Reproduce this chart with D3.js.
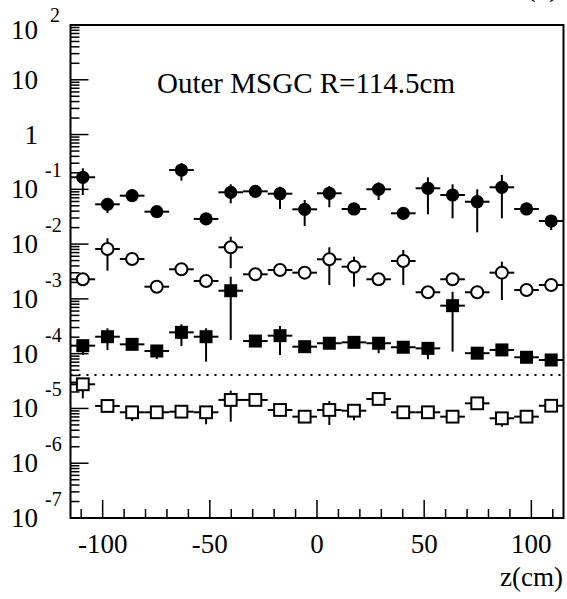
<!DOCTYPE html>
<html><head><meta charset="utf-8">
<script src="https://cdn.jsdelivr.net/npm/d3@7"></script>
<style>body{margin:0;background:#fff}svg{display:block}</style>
</head><body><div id="c"></div>
<script>
const zCenters = [-109.25,-97.75,-86.25,-74.75,-63.25,-51.75,-40.25,-28.75,-17.25,-5.75,5.75,17.25,28.75,40.25,51.75,63.25,74.75,86.25,97.75,109.25];
const binHalfWidth = 5.75;

const fullCircleVal = [0.166,0.0533,0.0766,0.0391,0.225,0.0288,0.0883,0.092,0.0832,0.0432,0.0847,0.0438,0.1002,0.0365,0.1045,0.0788,0.0594,0.109,0.0438,0.0264];
const fullCircleHi  = [0.242,0.07,0.095,0.048,0.299,0.035,0.1236,0.11,0.1117,0.0639,0.115,0.052,0.1345,0.044,0.166,0.1236,0.1002,0.183,0.052,0.034];
const fullCircleLo  = [0.0788,0.037,0.062,0.032,0.144,0.024,0.0556,0.075,0.0438,0.0214,0.047,0.036,0.0639,0.03,0.035,0.0296,0.0164,0.0296,0.036,0.0181];

const openCircleVal = [0.00228,0.00815,0.00535,0.00167,0.00347,0.00212,0.00875,0.00281,0.00337,0.00301,0.00528,0.00387,0.00228,0.00492,0.00132,0.00228,0.00132,0.00301,0.00145,0.00179];
const openCircleHi  = [0.0027,0.01277,0.0064,0.002,0.0042,0.0025,0.01365,0.0033,0.004,0.0036,0.00875,0.00589,0.0027,0.00781,0.0016,0.0027,0.0016,0.00478,0.0017,0.0021];
const openCircleLo  = [0.0019,0.00327,0.0045,0.0014,0.0029,0.0018,0.00362,0.0024,0.0028,0.0025,0.00179,0.00167,0.0019,0.00179,0.0011,0.0019,0.0011,0.000955,0.0012,0.0015];

const fullSquareVal = [1.40e-4,2.04e-4,1.48e-4,1.12e-4,2.45e-4,2.04e-4,1.41e-3,1.70e-4,2.13e-4,1.34e-4,1.55e-4,1.61e-4,1.55e-4,1.31e-4,1.25e-4,7.52e-4,1.02e-4,1.17e-4,8.59e-5,7.67e-5];
const fullSquareHi  = [1.7e-4,2.90e-4,1.75e-4,1.35e-4,3.44e-4,2.90e-4,2.54e-3,2.0e-4,3.20e-4,1.6e-4,1.85e-4,1.9e-4,1.85e-4,1.55e-4,1.5e-4,1.35e-3,1.2e-4,1.4e-4,1.0e-4,9.0e-5];
const fullSquareLo  = [9.5e-5,1.17e-4,1.25e-4,8.0e-5,1.38e-4,7.14e-5,1.78e-4,1.45e-4,9.46e-5,1.1e-4,1.3e-4,1.35e-4,1.02e-4,1.1e-4,7.9e-5,1.09e-4,8.5e-5,1.0e-4,7.2e-5,6.5e-5];

const openSquareVal = [2.76e-5,1.11e-5,8.51e-6,8.51e-6,8.73e-6,8.51e-6,1.43e-5,1.43e-5,9.38e-6,7.08e-6,9.38e-6,9.1e-6,1.49e-5,8.51e-6,8.51e-6,7.08e-6,1.24e-5,6.61e-6,7.08e-6,1.12e-5];
const openSquareHi  = [3.3e-5,1.3e-5,1.0e-5,1.0e-5,1.0e-5,1.0e-5,2.11e-5,1.7e-5,1.1e-5,8.3e-6,1.37e-5,1.07e-5,1.75e-5,1.0e-5,1.0e-5,8.3e-6,1.45e-5,7.8e-6,8.3e-6,1.3e-5];
const openSquareLo  = [1.53e-5,9.4e-6,5.9e-6,7.2e-6,7.4e-6,5.14e-6,5.73e-6,1.2e-5,8.0e-6,6.0e-6,4.99e-6,6.1e-6,1.27e-5,7.2e-6,7.2e-6,6.0e-6,1.05e-5,4.65e-6,6.0e-6,9.5e-6];

const referenceLevel = 4.08e-5;
const xTickLabels = ["-100","-50","0","50","100"];
const xMajorTicks = [-100,-50,0,50,100];
const yExponents = [-7,-6,-5,-4,-3,-2,-1,0,1,2];
const titleText = "Outer MSGC R=114.5cm";
const xAxisTitle = "z(cm)";

const W = 567, H = 599;
const L = 70.5, R = 563.5, T = 25, B = 518;
const svg = d3.select("#c").append("svg").attr("width", W).attr("height", H)
  .attr("font-family", "'Liberation Serif','Times New Roman',serif");
const x = d3.scaleLinear().domain([-115, 115]).range([L, R]);
const y = d3.scaleLog().domain([1e-7, 1e2]).range([B, T]);
const fs = 27;

// partially visible label at top-right (cut off in the original too)
svg.append("text").attr("x", 559).attr("y", -4).attr("text-anchor", "end").attr("font-size", 30).text("(a)");

// frame
svg.append("rect").attr("x", L).attr("y", T).attr("width", R - L).attr("height", B - T)
  .attr("fill", "none").attr("stroke", "#000").attr("stroke-width", 2);

// x ticks
const xMinor = d3.range(-110, 111, 10).filter(v => v % 50 !== 0);
svg.append("g").selectAll("line").data(xMinor).join("line")
  .attr("x1", d => x(d)).attr("x2", d => x(d)).attr("y1", B).attr("y2", B - 9)
  .attr("stroke", "#000").attr("stroke-width", 1.5);
svg.append("g").selectAll("line").data(xMajorTicks).join("line")
  .attr("x1", d => x(d)).attr("x2", d => x(d)).attr("y1", B).attr("y2", B - 18)
  .attr("stroke", "#000").attr("stroke-width", 1.5);
svg.append("g").selectAll("text").data(xMajorTicks).join("text")
  .attr("x", d => x(d)).attr("y", 553).attr("text-anchor", "middle").attr("font-size", fs)
  .text((d, i) => xTickLabels[i]);
svg.append("text").attr("x", 563).attr("y", 586).attr("text-anchor", "end").attr("font-size", fs).text(xAxisTitle);

// y ticks
const yMinor = [];
for (let e = -7; e < 2; e++) for (let m = 2; m <= 9; m++) yMinor.push(m * Math.pow(10, e));
svg.append("g").selectAll("line").data(yMinor).join("line")
  .attr("x1", L).attr("x2", L + 9).attr("y1", d => y(d)).attr("y2", d => y(d))
  .attr("stroke", "#000").attr("stroke-width", 1.5);
svg.append("g").selectAll("line").data(yExponents).join("line")
  .attr("x1", L).attr("x2", L + 18).attr("y1", d => y(Math.pow(10, d))).attr("y2", d => y(Math.pow(10, d)))
  .attr("stroke", "#000").attr("stroke-width", 1.5);
const yl = svg.append("g");
yExponents.forEach(e => {
  let yy = y(Math.pow(10, e));
  if (e === 2) yy += 5;
  if (e === 0) {
    yl.append("text").attr("x", 38).attr("y", yy + 9).attr("text-anchor", "end").attr("font-size", fs).text("1");
  } else if (e === 1) {
    yl.append("text").attr("x", 38).attr("y", yy + 9).attr("text-anchor", "end").attr("font-size", fs).text("10");
  } else {
    yl.append("text").attr("x", 38).attr("y", yy + 9).attr("text-anchor", "end").attr("font-size", fs).text("10");
    yl.append("text").attr("x", e > 0 ? 50 : 45).attr("y", e > 0 ? yy - 8 : yy - 12).attr("text-anchor", "start").attr("font-size", 20).text(String(e));
  }
});

// title
svg.append("text").attr("x", 157).attr("y", 93).attr("font-size", 29).text(titleText);

// dotted reference
svg.append("line").attr("x1", L).attr("x2", R).attr("y1", y(referenceLevel)).attr("y2", y(referenceLevel))
  .attr("stroke", "#000").attr("stroke-width", 2).attr("stroke-dasharray", "2,6");

const series = [
  {v: fullCircleVal, hi: fullCircleHi, lo: fullCircleLo, shape: "circle", fill: "#000"},
  {v: openCircleVal, hi: openCircleHi, lo: openCircleLo, shape: "circle", fill: "#fff"},
  {v: fullSquareVal, hi: fullSquareHi, lo: fullSquareLo, shape: "square", fill: "#000"},
  {v: openSquareVal, hi: openSquareHi, lo: openSquareLo, shape: "square", fill: "#fff"}
];
series.forEach(s => {
  const g = svg.append("g");
  const pts = zCenters.map((z, i) => ({z, v: s.v[i], hi: s.hi[i], lo: s.lo[i]}));
  g.selectAll("line.h").data(pts).join("line").attr("class", "h")
    .attr("x1", d => x(d.z - binHalfWidth)).attr("x2", d => x(d.z + binHalfWidth))
    .attr("y1", d => y(d.v)).attr("y2", d => y(d.v)).attr("stroke", "#000").attr("stroke-width", 2);
  g.selectAll("line.v").data(pts).join("line").attr("class", "v")
    .attr("x1", d => x(d.z)).attr("x2", d => x(d.z))
    .attr("y1", d => y(d.lo)).attr("y2", d => y(d.hi)).attr("stroke", "#000").attr("stroke-width", 2);
  if (s.shape === "circle") {
    g.selectAll("circle").data(pts).join("circle")
      .attr("cx", d => x(d.z)).attr("cy", d => y(d.v))
      .attr("r", s.fill === "#000" ? 6.6 : 6.0)
      .attr("fill", s.fill).attr("stroke", "#000").attr("stroke-width", s.fill === "#000" ? 0 : 2);
  } else {
    const a = s.fill === "#000" ? 13 : 11.8;
    g.selectAll("rect").data(pts).join("rect")
      .attr("x", d => x(d.z) - a / 2).attr("y", d => y(d.v) - a / 2)
      .attr("width", a).attr("height", a)
      .attr("fill", s.fill).attr("stroke", "#000").attr("stroke-width", s.fill === "#000" ? 0 : 2);
  }
});
</script></body></html>
